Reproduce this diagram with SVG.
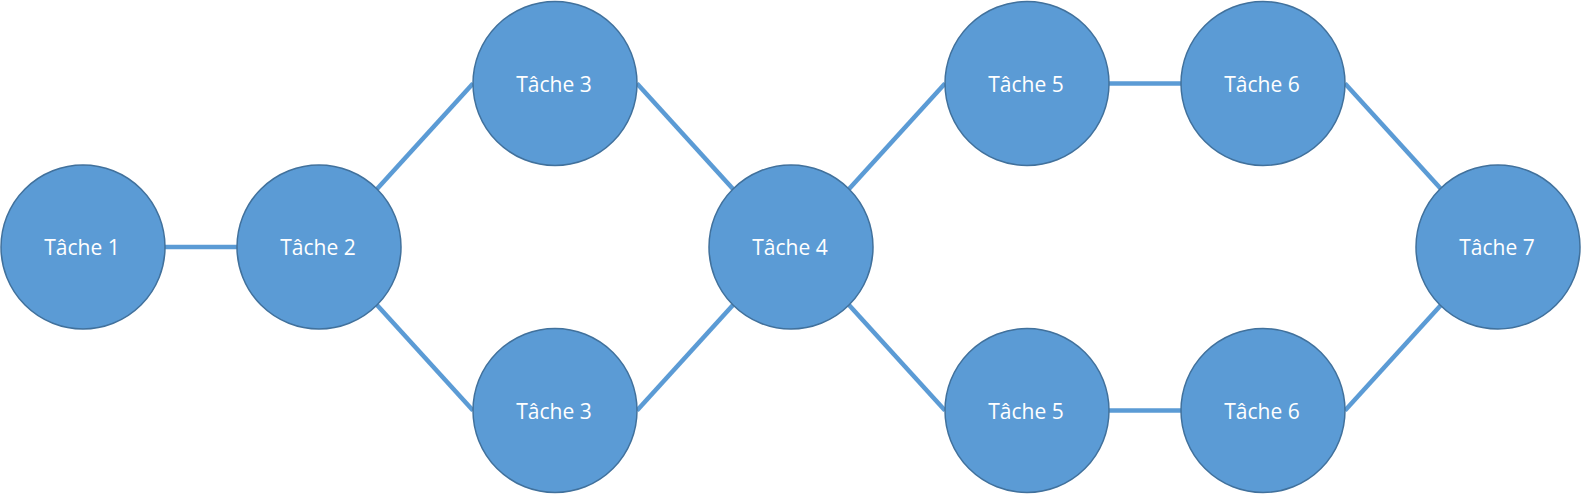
<svg xmlns="http://www.w3.org/2000/svg" width="1581" height="494" viewBox="0 0 1581 494">
<style>
.n{fill:#5b9bd5;stroke:#41719c;stroke-width:1.5}
.t{fill:#ffffff;font-family:"Open Sans","Liberation Sans",sans-serif;font-size:21px;text-anchor:middle}
.c line{stroke:#5b9bd5;stroke-width:4.5}
</style>
<rect width="1581" height="494" fill="#ffffff"/>
<g id="connectors" class="c">
<line x1="165" y1="247" x2="237" y2="247"/>
<line x1="377" y1="189" x2="473" y2="83.5"/>
<line x1="377" y1="305" x2="473" y2="410.5"/>
<line x1="637" y1="83.5" x2="733" y2="189"/>
<line x1="637" y1="410.5" x2="733" y2="305"/>
<line x1="849" y1="189" x2="945" y2="83.5"/>
<line x1="849" y1="305" x2="945" y2="410.5"/>
<line x1="1109" y1="83.5" x2="1181" y2="83.5"/>
<line x1="1109" y1="410.5" x2="1181" y2="410.5"/>
<line x1="1345" y1="83.5" x2="1441" y2="189"/>
<line x1="1345" y1="410.5" x2="1441" y2="305"/>
</g>
<g id="t1"><circle class="n" cx="83" cy="247" r="82"/><text class="t" x="82" y="255">Tâche 1</text></g>
<g id="t2"><circle class="n" cx="319" cy="247" r="82"/><text class="t" x="318" y="255">Tâche 2</text></g>
<g id="t3a"><circle class="n" cx="555" cy="83.5" r="82"/><text class="t" x="554" y="91.5">Tâche 3</text></g>
<g id="t3b"><circle class="n" cx="555" cy="410.5" r="82"/><text class="t" x="554" y="418.5">Tâche 3</text></g>
<g id="t4"><circle class="n" cx="791" cy="247" r="82"/><text class="t" x="790" y="255">Tâche 4</text></g>
<g id="t5a"><circle class="n" cx="1027" cy="83.5" r="82"/><text class="t" x="1026" y="91.5">Tâche 5</text></g>
<g id="t5b"><circle class="n" cx="1027" cy="410.5" r="82"/><text class="t" x="1026" y="418.5">Tâche 5</text></g>
<g id="t6a"><circle class="n" cx="1263" cy="83.5" r="82"/><text class="t" x="1262" y="91.5">Tâche 6</text></g>
<g id="t6b"><circle class="n" cx="1263" cy="410.5" r="82"/><text class="t" x="1262" y="418.5">Tâche 6</text></g>
<g id="t7"><circle class="n" cx="1498" cy="247" r="82"/><text class="t" x="1497" y="255">Tâche 7</text></g>
</svg>
